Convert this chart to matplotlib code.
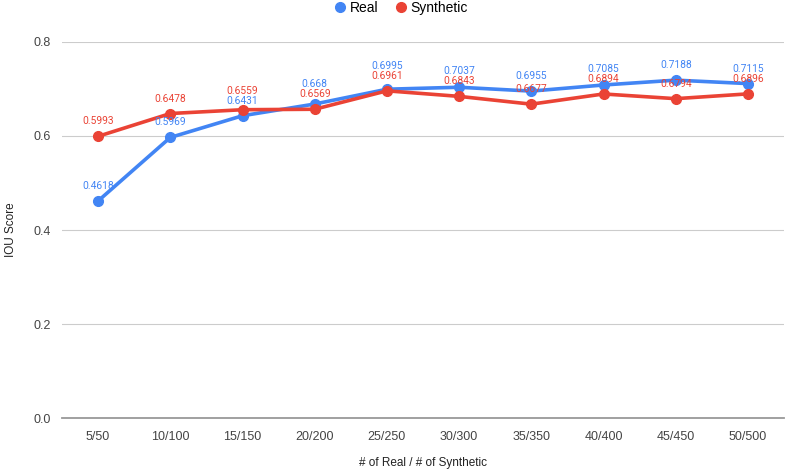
import matplotlib
matplotlib.use("Agg")
import matplotlib.pyplot as plt
from matplotlib.lines import Line2D

categories = ["5/50", "10/100", "15/150", "20/200", "25/250", "30/300", "35/350", "40/400", "45/450", "50/500"]
real = [0.4618, 0.5969, 0.6431, 0.668, 0.6995, 0.7037, 0.6955, 0.7085, 0.7188, 0.7115]
synthetic = [0.5993, 0.6478, 0.6559, 0.6569, 0.6961, 0.6843, 0.6677, 0.6894, 0.6794, 0.6896]
real_labels = ["0.4618", "0.5969", "0.6431", "0.668", "0.6995", "0.7037", "0.6955", "0.7085", "0.7188", "0.7115"]
syn_labels = ["0.5993", "0.6478", "0.6559", "0.6569", "0.6961", "0.6843", "0.6677", "0.6894", "0.6794", "0.6896"]
yticks = [0.0, 0.2, 0.4, 0.6, 0.8]

BLUE = "#4285F4"
RED = "#EA4335"
SANS = ['Liberation Sans', 'DejaVu Sans']

plt.rcParams['font.family'] = SANS
fig = plt.figure(figsize=(8, 4.76), dpi=100)
ax = fig.add_axes([0.0775, 0.1218, 0.9025, 0.79])

x = list(range(len(categories)))
ax.plot(x, real, color=BLUE, lw=2.6, marker='o', ms=7, zorder=3)
ax.plot(x, synthetic, color=RED, lw=2.6, marker='o', ms=7, zorder=4)

ax.set_xlim(-0.5, len(categories) - 0.5)
ax.set_ylim(0, 0.8)

# data labels: stack so they don't collide (pixel offsets)
BASE = 15.0   # px above point
GAP = 10.0    # px between stacked labels
px_per_unit = ax.bbox.height / 0.8
to_pt = 72.0 / fig.dpi
for xi in x:
    r, s = real[xi], synthetic[xi]
    diff = abs(r - s) * px_per_unit
    hi_off = max(BASE, BASE + GAP - diff)
    if r >= s:
        r_off, s_off = hi_off, BASE
    else:
        r_off, s_off = BASE, hi_off
    ax.annotate(real_labels[xi], (xi, r), xytext=(0, r_off * to_pt), textcoords='offset points',
                ha='center', va='center', fontsize=7.4, color=BLUE, zorder=5,
                family=['Roboto', 'DejaVu Sans'])
    ax.annotate(syn_labels[xi], (xi, s), xytext=(0, s_off * to_pt), textcoords='offset points',
                ha='center', va='center', fontsize=7.4, color=RED, zorder=5,
                family=['Roboto', 'DejaVu Sans'])

ax.set_yticks(yticks)
ax.set_yticklabels([f"{v:.1f}" for v in yticks])
ax.set_xticks(x)
ax.set_xticklabels(categories)
ax.tick_params(axis='both', length=0, labelsize=9, colors='#444444')
ax.tick_params(axis='x', pad=9)
ax.tick_params(axis='y', pad=8)
ax.grid(axis='y', color='#cccccc', lw=0.8)
ax.set_axisbelow(True)
for sp in ['top', 'right', 'left']:
    ax.spines[sp].set_visible(False)
ax.spines['bottom'].set_color('#999999')
ax.spines['bottom'].set_linewidth(1.3)
ax.spines['bottom'].set_zorder(2)

ax.set_ylabel("IOU Score", fontsize=8.5, color='#222222', labelpad=12)
fig.text(0.5 * (0.0775 + 0.98), 1 - 463 / 476, "# of Real / # of Synthetic",
         ha='center', va='center', fontsize=8.5, color='#222222')

handles = [Line2D([], [], ls='none', marker='o', color=BLUE, ms=7),
           Line2D([], [], ls='none', marker='o', color=RED, ms=7)]
fig.legend(handles, ["Real", "Synthetic"], loc='center', bbox_to_anchor=(0.5, 0.983), ncol=2,
           frameon=False, fontsize=10, handletextpad=0.1, columnspacing=1.0, handlelength=1.2)

fig.savefig("out.png", dpi=100)
